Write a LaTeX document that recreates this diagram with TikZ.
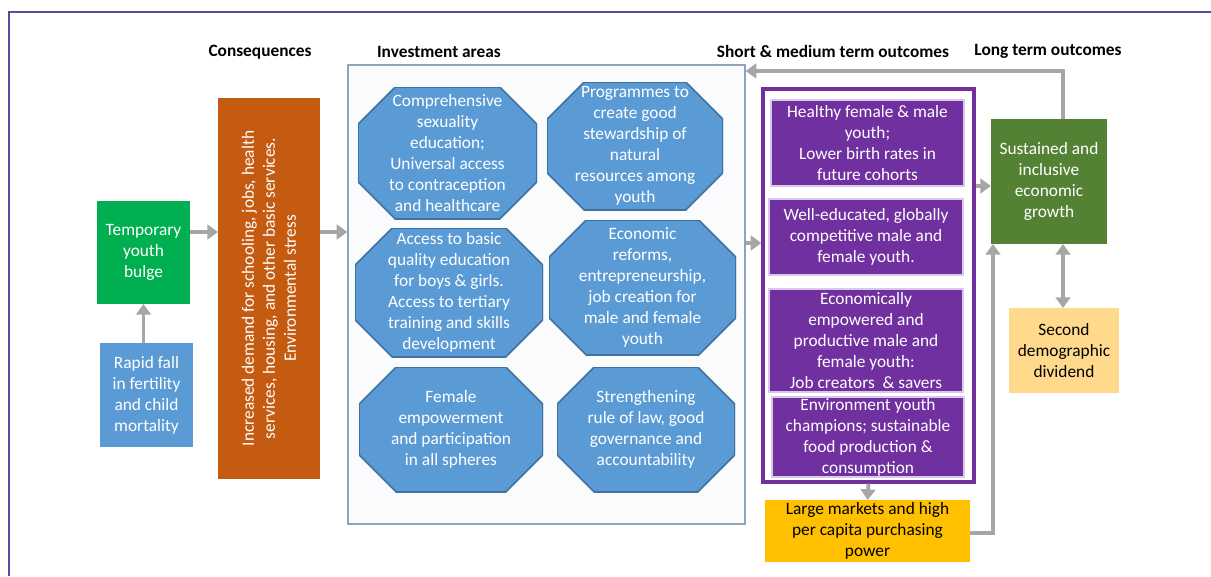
\documentclass[tikz,border=0pt]{standalone}
\usepackage{fontspec}
\setmainfont{Carlito}
\usetikzlibrary{arrows.meta,calc}
\definecolor{arrowgray}{HTML}{A6A6A6}
\definecolor{bulgegreen}{HTML}{00B050}
\definecolor{skyblue}{HTML}{5B9BD5}
\definecolor{octborder}{HTML}{41719C}
\definecolor{rust}{HTML}{C55A11}
\definecolor{invborder}{HTML}{8EA4BE}
\definecolor{invfill}{HTML}{FAFBFD}
\definecolor{purp}{HTML}{7030A0}
\definecolor{purpedge}{HTML}{D9C8EA}
\definecolor{leaf}{HTML}{548235}
\definecolor{pale}{HTML}{FFD98C}
\definecolor{gold}{HTML}{FFC000}
\definecolor{framecol}{HTML}{4F4F9F}
\tikzset{
  sz/.style 2 args={minimum width=#1*0.75pt, minimum height=#2*0.75pt},
  txt/.style={font=\fontsize{13}{15.75}\selectfont, align=center, inner sep=0pt, outer sep=0pt},
  wbox/.style={txt, text=white},
  hdr/.style={font=\fontsize{13}{15}\selectfont\bfseries, inner sep=0pt},
  garrow/.style={draw=arrowgray, line width=2.8pt, -{Triangle[width=11pt,length=8pt]}},
  dgarrow/.style={draw=arrowgray, line width=2.8pt, {Triangle[width=11pt,length=8pt]}-{Triangle[width=11pt,length=8pt]}},
  oct/.style={wbox, path picture={
    \draw[fill=skyblue, draw=octborder, line width=1.2pt]
      ([xshift=28pt]path picture bounding box.north west) --
      ([xshift=-28pt]path picture bounding box.north east) --
      ([yshift=-28pt]path picture bounding box.north east) --
      ([yshift=28pt]path picture bounding box.south east) --
      ([xshift=-28pt]path picture bounding box.south east) --
      ([xshift=28pt]path picture bounding box.south west) --
      ([yshift=28pt]path picture bounding box.south west) --
      ([yshift=-28pt]path picture bounding box.north west) -- cycle;}},
  pbox/.style={wbox, fill=purp, draw=purpedge, line width=0.8pt}
}
\begin{document}
\begin{tikzpicture}[x=0.75pt, y=-0.75pt]
\useasboundingbox (0,0) rectangle (1211,576);
% outer frame
\draw[framecol, line width=1.3pt] (9,576) -- (9,12) -- (1211,12);
% headers
\node[hdr] (hcons) at (260,52) {Consequences};
\node[hdr] (hinv) at (439,52) {Investment areas};
\node[hdr] (hshort) at (833,51) {Short \& medium term outcomes};
\node[hdr] (hlong) at (1048,51) {Long term outcomes};
% left column
\node[wbox, fill=bulgegreen, sz={93}{103}] (bulge) at (143.5,252.5) {Temporary\\youth\\bulge};
\node[wbox, fill=skyblue, sz={93}{104}] (rapid) at (146.5,395) {Rapid fall\\in fertility\\and child\\mortality};
\node[wbox, fill=rust, sz={102}{381}] (demand) at (269,288.5) {};
\node[wbox, rotate=90] (demandtxt) at (demand.center) {Increased demand for schooling, jobs, health\\services, housing, and other basic services.\\Environmental stress};
% investment areas
\node[draw=invborder, fill=invfill, line width=0.9pt, sz={397}{459}, inner sep=0pt] (inv) at (546.5,294.5) {};
\node[oct, sz={179}{132}] (o1) at (447.5,153) {Comprehensive\\sexuality\\education;\\Universal access\\to contraception\\and healthcare};
\node[oct, sz={176}{128}] (o2) at (635,146) {Programmes to\\create good\\stewardship of\\natural\\resources among\\youth};
\node[oct, sz={188}{129}] (o3) at (449,292.5) {Access to basic\\quality education\\for boys \& girls.\\Access to tertiary\\training and skills\\development};
\node[oct, sz={187}{135}] (o4) at (642.5,287.5) {Economic\\reforms,\\entrepreneurship,\\job creation for\\male and female\\youth};
\node[oct, sz={184}{125}] (o5) at (451,429.5) {Female\\empowerment\\and participation\\in all spheres};
\node[oct, sz={178}{125}] (o6) at (646,429.5) {Strengthening\\rule of law, good\\governance and\\accountability};
% short & medium term outcomes
\node[draw=purp, fill=white, line width=2.4pt, sz={211}{393}, inner sep=0pt] (short) at (868.5,285.5) {};
\node[pbox, sz={193}{86}] (p1) at (867.5,143) {Healthy female \& male\\youth;\\Lower birth rates in\\future cohorts};
\node[pbox, sz={194}{76}] (p2) at (866,237) {Well-educated, globally\\competitive male and\\female youth.};
\node[pbox, sz={194}{103}] (p3) at (866,340.5) {Economically\\empowered and\\productive male and\\female youth:\\Job creators\ \ \& savers};
\node[pbox, sz={192}{80}] (p4) at (868,437) {Environment youth\\champions; sustainable\\food production \&\\consumption};
\node[txt, fill=gold, sz={205}{62}] (market) at (867.5,531) {Large markets and high\\per capita purchasing\\power};
% long term outcomes
\node[wbox, fill=leaf, sz={116}{125}] (growth) at (1049,181.5) {Sustained and\\inclusive\\economic\\growth};
\node[txt, fill=pale, sz={110}{85}] (dividend) at (1064,350.5) {Second\\demographic\\dividend};
% connectors
\draw[garrow] (rapid.north -| bulge.south) -- (bulge.south);
\draw[garrow] (bulge.east |- 0,232) -- (demand.west |- 0,232);
\draw[garrow] (demand.east |- 0,232) -- (inv.west |- 0,232);
\draw[garrow] (inv.east |- 0,243) -- (short.west |- 0,243);
\draw[garrow] (short.east |- 0,186) -- (growth.west |- 0,186);
\draw[garrow] (short.south) -- (market.north);
\draw[garrow] (market.east |- 0,533) -| (growth.south -| 993,0);
\draw[dgarrow] (growth.south -| 1063,0) -- (dividend.north -| 1063,0);
\draw[garrow] (growth.north -| 1063,0) |- (inv.east |- 0,71);
\end{tikzpicture}
\end{document}
